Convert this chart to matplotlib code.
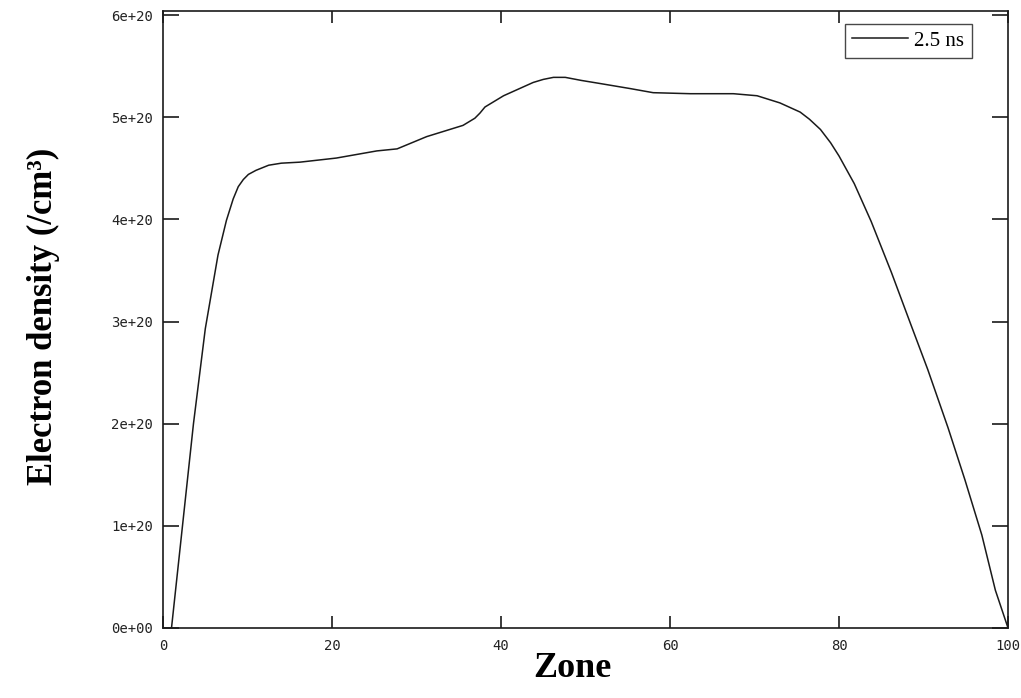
import matplotlib
matplotlib.use("Agg")
import matplotlib.pyplot as plt
from matplotlib.ticker import FuncFormatter

# Electron density profile across the zones at t = 2.5 ns
zone = [1.0, 2.3, 3.6, 5.0, 6.5, 7.5, 8.3, 8.9, 9.5, 10.1, 11.0, 12.5, 14.0,
        16.2, 20.5, 25.3, 27.7, 31.2, 35.5, 36.9, 37.5, 38.1, 40.3, 43.8,
        45.0, 46.2, 47.6, 49.5, 51.7, 55.3, 58.0, 62.4, 67.5, 70.3, 73.0,
        75.4, 76.5, 77.8, 79.0, 80.0, 81.8, 83.8, 86.2, 88.5, 90.5, 92.9,
        94.9, 96.9, 98.5, 100.0]
density = [0.0, 1.0e20, 2.0e20, 2.93e20, 3.65e20, 3.99e20, 4.20e20, 4.32e20,
           4.39e20, 4.44e20, 4.48e20, 4.53e20, 4.55e20, 4.56e20, 4.60e20,
           4.67e20, 4.69e20, 4.81e20, 4.92e20, 4.99e20, 5.04e20, 5.10e20,
           5.21e20, 5.34e20, 5.37e20, 5.39e20, 5.39e20, 5.36e20, 5.33e20,
           5.28e20, 5.24e20, 5.23e20, 5.23e20, 5.21e20, 5.14e20, 5.05e20,
           4.98e20, 4.88e20, 4.75e20, 4.62e20, 4.35e20, 3.98e20, 3.48e20,
           2.97e20, 2.53e20, 1.96e20, 1.45e20, 0.91e20, 0.37e20, 0.0]

x_ticks = [0, 20, 40, 60, 80, 100]
y_ticks = [0, 1e20, 2e20, 3e20, 4e20, 5e20, 6e20]
series_label = "2.5 ns"

fig = plt.figure(figsize=(10.21, 6.98), dpi=100)
ax = fig.add_axes([0.1597, 0.1003, 0.8276, 0.8840])

ax.plot(zone, density, color="#1a1a1a", lw=1.1, label=series_label)

ax.set_xlim(0, 100)
ax.set_ylim(0, 6.04e20)
ax.set_xticks(x_ticks)
ax.set_yticks(y_ticks)
ax.yaxis.set_major_formatter(FuncFormatter(lambda v, p: f"{v:.0e}"))

for s in ax.spines.values():
    s.set_linewidth(1.2)
    s.set_color("#1a1a1a")

ax.tick_params(axis="both", direction="in", top=True, right=True,
               width=1.2, color="#1a1a1a", labelsize=10, labelcolor="#222222")
ax.tick_params(axis="x", length=8.5, pad=8)
ax.tick_params(axis="y", length=11.5, pad=7)
for lab in ax.get_xticklabels() + ax.get_yticklabels():
    lab.set_family("DejaVu Sans Mono")

ax.set_xlabel("Zone", family="Liberation Serif", fontweight="bold", fontsize=26)
ax.set_ylabel("Electron density (/cm\u00b3)", family="Liberation Serif",
              fontweight="bold", fontsize=25)
ax.xaxis.set_label_coords(0.485, -0.039)
ax.yaxis.set_label_coords(-0.122, 0.505)

leg = ax.legend(loc="upper right", bbox_to_anchor=(0.957, 0.979),
                borderaxespad=0, frameon=True, fancybox=False,
                prop={"family": "Liberation Serif", "size": 15},
                handlelength=2.7, handletextpad=0.3, borderpad=0.35)
leg.get_frame().set_edgecolor("#1a1a1a")
leg.get_frame().set_linewidth(1.0)

fig.savefig("out.png", dpi=100)
